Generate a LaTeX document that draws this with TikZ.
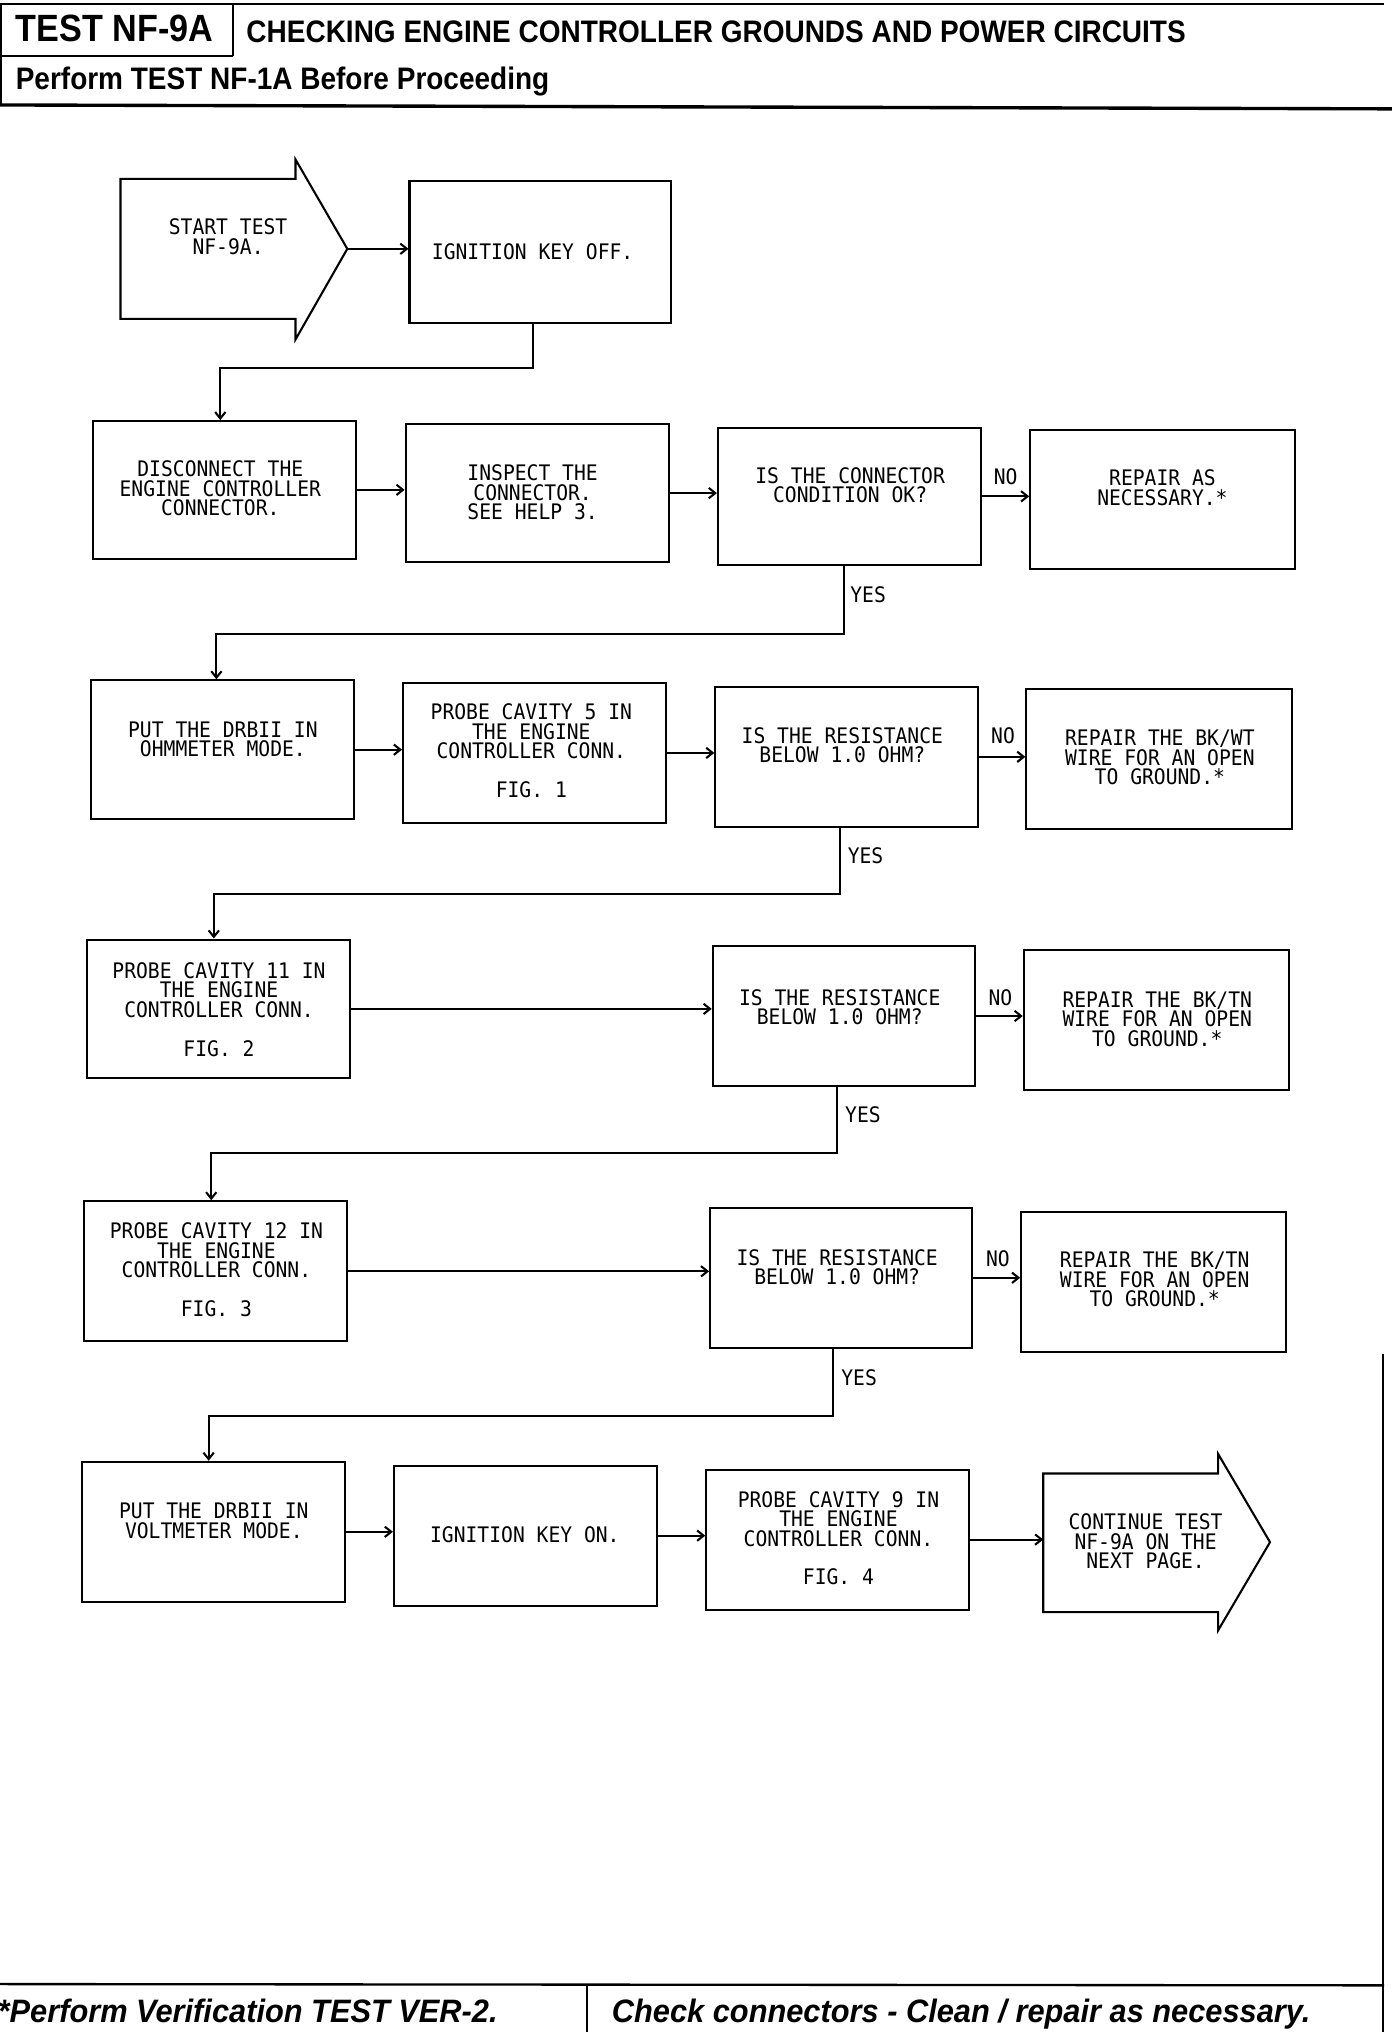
\documentclass[tikz,border=0pt]{standalone}
\usepackage{fontspec}
\setmainfont{Liberation Sans}
\newfontfamily\plotterfont{DejaVu Sans Mono}[FakeStretch=0.92]
\newfontfamily\headfont{Liberation Sans}[FakeStretch=0.9]
\newfontfamily\footfont{Liberation Sans}[FakeStretch=0.95]
\usetikzlibrary{arrows.meta}
\newcommand{\mybox}[5]{%
  \node[box, minimum width={#4pt-#2pt}, minimum height={#5pt-#3pt}] (#1) at ({(#2+#4)/2},{(#3+#5)/2}) {};}
\begin{document}
\begin{tikzpicture}[x=1pt, y=-1pt,
  box/.style={draw, line width=1.6pt, inner sep=0pt},
  shp/.style={line width=1.6pt, line join=miter},
  hline/.style={line width=1.8pt},
  txt/.style={font=\plotterfont\fontsize{16.5}{15}\selectfont, align=center, inner sep=0pt},
  conn/.style={line width=1.6pt, -{Straight Barb[length=5pt,width=8pt]}},
  link/.style={line width=1.6pt}]
\useasboundingbox (0,0) rectangle (1074,1568);

% ---------- header ----------
\draw[hline] (0,3) -- (1068,3);
\draw[hline] (1,3) -- (1,82);
\draw[hline] (180,3) -- (180,43);
\draw[hline] (0,43) -- (180,43);
\draw[line width=2.6pt] (0,81) -- (1074,84);
\node[anchor=base west, inner sep=0pt, font=\headfont\bfseries\fontsize{29.3}{31}\selectfont] (hdrtest) at (12,32) {TEST NF-9A};
\node[anchor=base west, inner sep=0pt, font=\headfont\bfseries\fontsize{24}{26}\selectfont] (hdrtitle) at (190,33) {CHECKING ENGINE CONTROLLER GROUNDS AND POWER CIRCUITS};
\node[anchor=base west, inner sep=0pt, font=\headfont\bfseries\fontsize{24}{26}\selectfont] (hdrpre) at (12,69) {Perform TEST NF-1A Before Proceeding};

% ---------- footer ----------
\draw[hline] (0,1531) -- (1068,1532);
\draw[hline] (453,1532) -- (453,1568);
\draw[hline] (1067,1045) -- (1067,1568);
\node[anchor=base west, inner sep=0pt, font=\footfont\bfseries\itshape\fontsize{25}{28}\selectfont] (ftl) at (-2,1561) {*Perform Verification TEST VER-2.};
\node[anchor=base west, inner sep=0pt, font=\footfont\bfseries\itshape\fontsize{25}{28}\selectfont] (ftr) at (472,1561) {Check connectors - Clean / repair as necessary.};

% ---------- row 0 ----------
\draw[shp] (93,138) -- (228,138) -- (228,123) -- (268,192) -- (228,262) -- (228,246) -- (93,246) -- cycle;
\coordinate (s0tip) at (268,192);
\node[txt] (s0t) at (176,182.5) {START TEST\\NF-9A.};
\mybox{b0}{316}{140}{518}{249}
\node[txt] (b0t) at (411,194) {IGNITION KEY OFF.};

% ---------- row 1 ----------
\mybox{a1}{72}{325}{275}{431}
\mybox{b1}{313}{327}{516}{434}
\mybox{c1}{554}{330}{757}{436}
\mybox{d1}{795}{332}{999}{439}
\node[txt] (a1t) at (170,377) {DISCONNECT THE\\ENGINE CONTROLLER\\CONNECTOR.};
\node[txt] (b1t) at (411,380) {INSPECT THE\\CONNECTOR.\\SEE HELP 3.};
\node[txt] (c1t) at (656,374.5) {IS THE CONNECTOR\\CONDITION OK?};
\node[txt] (d1t) at (897,376.5) {REPAIR AS\\NECESSARY.*};
\node[txt] (no1) at (776,368) {NO};
\node[txt, anchor=west] (yes1) at (656,459) {YES};

% ---------- row 2 ----------
\mybox{a2}{70}{525}{273}{632}
\mybox{b2}{311}{527}{514}{635}
\mybox{c2}{552}{530}{755}{638}
\mybox{d2}{792}{532}{997}{640}
\node[txt] (a2t) at (172,570.5) {PUT THE DRBII IN\\OHMMETER MODE.};
\node[txt] (b2t) at (410,579.5) {PROBE CAVITY 5 IN\\THE ENGINE\\CONTROLLER CONN.\\[15pt]FIG. 1};
\node[txt] (c2t) at (650,575) {IS THE RESISTANCE\\BELOW 1.0 OHM?};
\node[txt] (d2t) at (895,584.5) {REPAIR THE BK/WT\\WIRE FOR AN OPEN\\TO GROUND.*};
\node[txt] (no2) at (774,568) {NO};
\node[txt, anchor=west] (yes2) at (654,660) {YES};

% ---------- row 3 ----------
\mybox{a3}{67}{725}{270}{832}
\mybox{c3}{550}{730}{752}{838}
\mybox{d3}{790}{733}{995}{841}
\node[txt] (a3t) at (169,779) {PROBE CAVITY 11 IN\\THE ENGINE\\CONTROLLER CONN.\\[15pt]FIG. 2};
\node[txt] (c3t) at (648,777) {IS THE RESISTANCE\\BELOW 1.0 OHM?};
\node[txt] (d3t) at (893,786.5) {REPAIR THE BK/TN\\WIRE FOR AN OPEN\\TO GROUND.*};
\node[txt] (no3) at (772,770) {NO};
\node[txt, anchor=west] (yes3) at (652,860) {YES};

% ---------- row 4 ----------
\mybox{a4}{65}{927}{268}{1035}
\mybox{c4}{548}{932}{750}{1040}
\mybox{d4}{788}{935}{992}{1043}
\node[txt] (a4t) at (167,980) {PROBE CAVITY 12 IN\\THE ENGINE\\CONTROLLER CONN.\\[15pt]FIG. 3};
\node[txt] (c4t) at (646,978) {IS THE RESISTANCE\\BELOW 1.0 OHM?};
\node[txt] (d4t) at (891,987.5) {REPAIR THE BK/TN\\WIRE FOR AN OPEN\\TO GROUND.*};
\node[txt] (no4) at (770,971) {NO};
\node[txt, anchor=west] (yes4) at (649,1063) {YES};

% ---------- row 5 ----------
\mybox{a5}{63}{1128}{266}{1236}
\mybox{b5}{304}{1131}{507}{1239}
\mybox{c5}{545}{1134}{748}{1242}
\draw[shp] (805,1137) -- (940,1137) -- (940,1122) -- (980,1190) -- (940,1258) -- (940,1244) -- (805,1244) -- cycle;
\coordinate (d5in) at (805,1189);
\node[txt] (a5t) at (165,1173.5) {PUT THE DRBII IN\\VOLTMETER MODE.};
\node[txt] (b5t) at (405,1184) {IGNITION KEY ON.};
\node[txt] (c5t) at (647,1187) {PROBE CAVITY 9 IN\\THE ENGINE\\CONTROLLER CONN.\\[15pt]FIG. 4};
\node[txt] (d5t) at (884,1189.5) {CONTINUE TEST\\NF-9A ON THE\\NEXT PAGE.};

% ---------- connectors ----------
\draw[conn] (s0tip) -- (s0tip -| b0.west);
\draw[conn] (a1.east) -- (a1.east -| b1.west);
\draw[conn] (b1.east) -- (b1.east -| c1.west);
\draw[conn] (c1.east) -- (c1.east -| d1.west);
\draw[conn] (a2.east) -- (a2.east -| b2.west);
\draw[conn] (b2.east) -- (b2.east -| c2.west);
\draw[conn] (c2.east) -- (c2.east -| d2.west);
\draw[conn] (a3.east) -- (a3.east -| c3.west);
\draw[conn] (c3.east) -- (c3.east -| d3.west);
\draw[conn] (a4.east) -- (a4.east -| c4.west);
\draw[conn] (c4.east) -- (c4.east -| d4.west);
\draw[conn] (a5.east) -- (a5.east -| b5.west);
\draw[conn] (b5.east) -- (b5.east -| c5.west);
\draw[conn] (c5.east) -- (c5.east -| d5in);

\coordinate (j0a) at (411,284);  \coordinate (j0b) at (170,284);
\coordinate (j1a) at (651,489);  \coordinate (j1b) at (167,489);
\coordinate (j2a) at (648,690);  \coordinate (j2b) at (165,690);
\coordinate (j3a) at (646,890);  \coordinate (j3b) at (163,890);
\coordinate (j4a) at (643,1093); \coordinate (j4b) at (161,1093);
\draw[conn] (b0.south -| j0a) -- (j0a) -- (j0b) -- (j0b |- a1.north);
\draw[conn] (c1.south -| j1a) -- (j1a) -- (j1b) -- (j1b |- a2.north);
\draw[conn] (c2.south -| j2a) -- (j2a) -- (j2b) -- (j2b |- a3.north);
\draw[conn] (c3.south -| j3a) -- (j3a) -- (j3b) -- (j3b |- a4.north);
\draw[conn] (c4.south -| j4a) -- (j4a) -- (j4b) -- (j4b |- a5.north);
\end{tikzpicture}
\end{document}
